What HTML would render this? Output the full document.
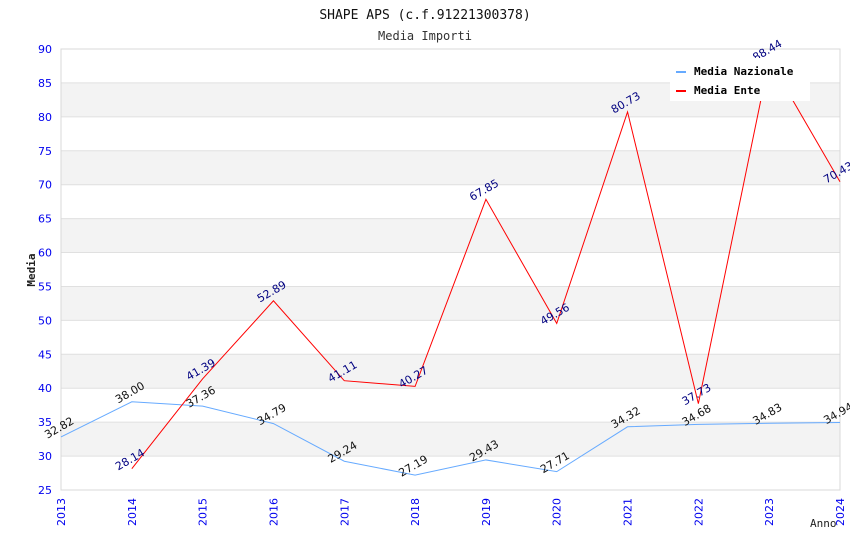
<!DOCTYPE html>
<html><head><meta charset="utf-8"><style>
body{margin:0;background:#fff;}
svg text{font-family:"DejaVu Sans","Liberation Sans",sans-serif;}
.mono{font-family:"DejaVu Sans Mono","Liberation Mono",monospace !important;}
</style></head><body>
<svg id="c" width="850" height="550" xmlns="http://www.w3.org/2000/svg"></svg>
<script>
const years=[2013,2014,2015,2016,2017,2018,2019,2020,2021,2022,2023,2024];
const nazionale=[32.82,38.00,37.36,34.79,29.24,27.19,29.43,27.71,34.32,34.68,34.83,34.94];
const ente=[null,28.14,41.39,52.89,41.11,40.27,67.85,49.56,80.73,37.73,88.44,70.43];
const yTicks=[25,30,35,40,45,50,55,60,65,70,75,80,85,90];
const NS="http://www.w3.org/2000/svg";
const svg=document.getElementById('c');
const X0=61,X1=840,Y0=490,Y1=49;
const xs=i=>X0+(X1-X0)*i/(years.length-1);
const ys=v=>Y0-(v-25)/(90-25)*(Y0-Y1);
function mk(t,a,p){const e=document.createElementNS(NS,t);for(const k in a)e.setAttribute(k,a[k]);(p||svg).appendChild(e);return e;}
// bands
for(let k=0;k<yTicks.length-1;k++){
 if(k%2===1){const r=mk('rect',{x:X0,y:ys(yTicks[k+1]),width:X1-X0,height:ys(yTicks[k])-ys(yTicks[k+1]),fill:'#f3f3f3'});
 
 }
}
yTicks.forEach(v=>{
 const l=mk('line',{x1:X0,x2:X1,y1:ys(v),y2:ys(v),stroke:'#e0e0e0','stroke-width':1});
 
 
 const t=mk('text',{x:52,y:ys(v)+4,'text-anchor':'end','font-size':11,fill:'#0000ee'});t.textContent=v;
 
 
});
const fr=mk('rect',{x:X0,y:Y1,width:X1-X0,height:Y0-Y1,fill:'none',stroke:'#d8d8d8'});


years.forEach((y,i)=>{
 const t=mk('text',{x:0,y:0,'text-anchor':'end','font-size':11,fill:'#0000ee',transform:`translate(${xs(i)+4},${Y0+8}) rotate(-90)`});t.textContent=y;
 
 
});
function series(vals,color,lblColor,name){
 let d='';vals.forEach((v,i)=>{if(v==null)return;d+=(d?'L':'M')+xs(i)+','+ys(v);});
 const p=mk('path',{d,fill:'none',stroke:color,'stroke-width':1});
 
 
 vals.forEach((v,i)=>{if(v==null)return;
  const t=mk('text',{x:0,y:0,'text-anchor':'middle','font-size':11,fill:lblColor,transform:`translate(${xs(i)},${ys(v)-6}) rotate(-30)`});
  t.textContent=v.toFixed(2);
  
  
 });
}
series(nazionale,'#66aaff','#111','nazionale');
series(ente,'#ff0000','#000080','ente');
</script>
<svg width="850" height="550" style="position:absolute;left:0;top:0" xmlns="http://www.w3.org/2000/svg">
<text class="mono" x="425" y="19" text-anchor="middle" font-size="13" fill="#111">SHAPE APS (c.f.91221300378)</text>
<text class="mono" x="425" y="40" text-anchor="middle" font-size="12" fill="#333">Media Importi</text>
<text class="mono" x="0" y="0" transform="translate(35,270) rotate(-90)" text-anchor="middle" font-size="11" font-weight="bold" fill="#222">Media</text>
<text class="mono" x="810" y="527" font-size="11" fill="#222">Anno</text>
<g>
<rect x="670" y="58" width="140" height="43" fill="#fff"/>
<rect x="676" y="71" width="10" height="2" fill="#66aaff"/>
<text class="mono" x="694" y="75" font-size="11" font-weight="bold" fill="#000">Media Nazionale</text>
<rect x="676" y="90" width="10" height="2" fill="#ff0000"/>
<text class="mono" x="694" y="94" font-size="11" font-weight="bold" fill="#000">Media Ente</text>
</g>
</svg>
</body></html>
